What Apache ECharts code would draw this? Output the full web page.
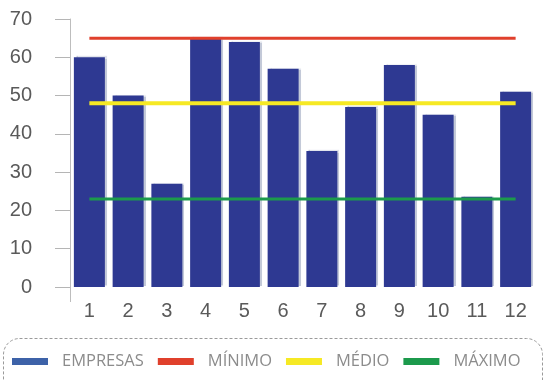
<!DOCTYPE html>
<html>
<head>
<meta charset="utf-8">
<script src="https://cdn.jsdelivr.net/npm/echarts@6/dist/echarts.min.js"></script>
<style>
  html, body { margin: 0; padding: 0; background: #fff; }
  #chart { width: 545px; height: 380px; }
</style>
</head>
<body>
<div id="chart"></div>
<script>
// Months 1..12 and the company counts per month
var categories = ['1', '2', '3', '4', '5', '6', '7', '8', '9', '10', '11', '12'];
var empresas = [60, 50, 27, 65, 64, 57, 35.5, 47, 58, 45, 23.6, 51];
// Reference levels, one value per month
var minimo = [65, 65, 65, 65, 65, 65, 65, 65, 65, 65, 65, 65];
var medio  = [48, 48, 48, 48, 48, 48, 48, 48, 48, 48, 48, 48];
var maximo = [23, 23, 23, 23, 23, 23, 23, 23, 23, 23, 23, 23];
var yTicks = [0, 10, 20, 30, 40, 50, 60, 70];

var GRID_LEFT = 70;

var chart = echarts.init(document.getElementById('chart'), null, { renderer: 'canvas' });

var option = {
  animation: false,
  backgroundColor: '#ffffff',
  grid: { left: GRID_LEFT, right: 10, top: 19, bottom: 93, containLabel: false },
  legend: {
    left: 12,
    top: 353,
    width: 700,
    padding: 0,
    itemWidth: 36,
    itemHeight: 7,
    itemGap: 14,
    icon: 'rect',
    textStyle: {
      fontFamily: 'Open Sans',
      fontSize: 16.5,
      color: '#8c8c8c',
      padding: [0, 0, 0, 9]
    },
    data: [
      { name: 'EMPRESAS', itemStyle: { color: '#3d62a8' } },
      { name: 'MÍNIMO', itemStyle: { color: '#e0402c' } },
      { name: 'MÉDIO', itemStyle: { color: '#f6e924' } },
      { name: 'MÁXIMO', itemStyle: { color: '#1c9a4c' } }
    ]
  },
  xAxis: {
    type: 'category',
    data: categories,
    axisLine: { show: false },
    axisTick: { show: false },
    axisLabel: {
      margin: 14,
      fontFamily: 'Liberation Sans',
      fontSize: 20,
      color: '#5a5a5a'
    }
  },
  yAxis: {
    type: 'value',
    min: yTicks[0],
    max: yTicks[yTicks.length - 1],
    interval: 10,
    splitLine: { show: false },
    axisLine: { show: true, lineStyle: { color: '#bdbdbd', width: 1 } },
    axisTick: { show: true, length: 15, lineStyle: { color: '#b5b5b5', width: 1 } },
    axisLabel: {
      margin: 38,
      fontFamily: 'Liberation Sans',
      fontSize: 20,
      color: '#5a5a5a'
    }
  },
  series: [
    {
      name: 'EMPRESAS',
      type: 'bar',
      data: empresas,
      barCategoryGap: '20%',
      itemStyle: {
        color: '#2e3992',
        shadowColor: 'rgba(170,178,200,0.7)',
        shadowOffsetX: 2,
        shadowOffsetY: -1,
        shadowBlur: 1
      }
    },
    {
      name: 'MÍNIMO',
      type: 'line',
      data: minimo,
      symbol: 'none',
      lineStyle: { color: '#e0402c', width: 3 },
      itemStyle: { color: '#e0402c' }
    },
    {
      name: 'MÉDIO',
      type: 'line',
      data: medio,
      symbol: 'none',
      lineStyle: { color: '#f6e924', width: 4 },
      itemStyle: { color: '#f6e924' }
    },
    {
      name: 'MÁXIMO',
      type: 'line',
      data: maximo,
      symbol: 'none',
      lineStyle: { color: '#1c9a4c', width: 3 },
      itemStyle: { color: '#1c9a4c' }
    }
  ]
};

chart.setOption(option);

// The value axis line runs a little past zero; the legend sits in a dashed rounded frame
var zeroY = chart.convertToPixel({ yAxisIndex: 0 }, 0);
var axisX = GRID_LEFT + 0.5;
chart.setOption({
  graphic: [
    {
      type: 'line',
      shape: { x1: axisX, y1: zeroY, x2: axisX, y2: zeroY + 15 },
      style: { stroke: '#bdbdbd', lineWidth: 1 },
      silent: true
    },
    {
      type: 'rect',
      shape: { x: 3.5, y: 338.5, width: 539, height: 70, r: 16 },
      style: { fill: 'none', stroke: '#9a9a9a', lineWidth: 1, lineDash: [3, 2] },
      silent: true,
      z: -1
    }
  ]
});
</script>
</body>
</html>
